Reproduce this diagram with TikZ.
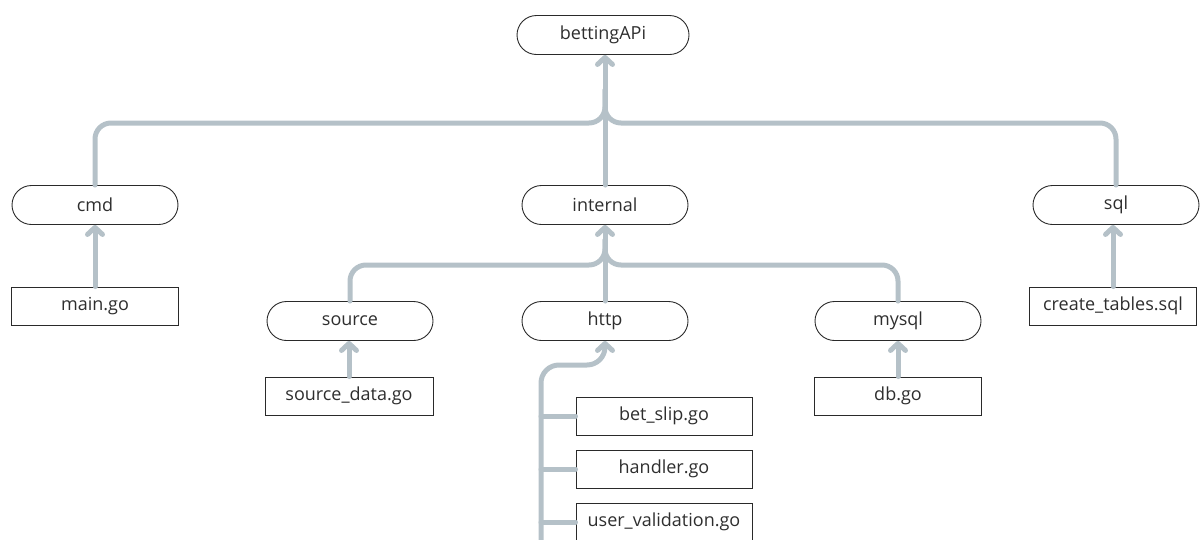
\documentclass[tikz,border=0pt]{standalone}
\usepackage{fontspec}
\setmainfont{Open Sans}
\usetikzlibrary{arrows.meta}
\definecolor{linec}{HTML}{B5C1C8}
\definecolor{edgec}{HTML}{2A2A2A}
\tikzset{
  pill/.style={draw=edgec, line width=0.9pt, rounded corners=19.5pt, minimum width=166pt, minimum height=39pt, inner sep=0pt, font=\fontsize{18}{21}\selectfont, text=black!82},
  filebox/.style={draw=edgec, line width=0.9pt, minimum width=167pt, minimum height=38pt, inner sep=0pt, font=\fontsize{18}{21}\selectfont, text=black!82},
  conn/.style={draw=linec, line width=5pt, line cap=round},
  arr/.style={conn, -{Straight Barb[length=7pt, width=15pt, line width=5pt, round]}},
}
\begin{document}
\begin{tikzpicture}[x=1pt, y=-1pt]
\useasboundingbox (0,0) rectangle (1200,539);
% nodes
\node[pill, minimum width=172pt] (api) at (603,35) {bettingAPi};
\node[pill] (cmd) at (95,205) {cmd};
\node[pill] (internal) at (605,205) {internal};
\node[pill] (sql) at (1116,205) {sql};
\node[filebox] (main) at (95,306) {main.go};
\node[filebox] (create) at (1113,306) {create\_tables.sql};
\node[pill] (source) at (350,321) {source};
\node[pill] (http) at (605,321) {http};
\node[pill] (mysql) at (898,321) {mysql};
\node[filebox, minimum width=168pt] (sourcedata) at (349,396) {source\_data.go};
\node[filebox] (db) at (898,396) {db.go};
\node[filebox, minimum width=176pt] (betslip) at (664,416) {bet\_slip.go};
\node[filebox, minimum width=176pt] (handler) at (664,469) {handler.go};
\node[filebox, minimum width=176pt] (uservalid) at (664,522) {user\_validation.go};
% junction coordinates
\coordinate (j1) at (605,123);
\coordinate (j1top) at (605,90);
\coordinate (j2) at (605,265);
\coordinate (j2top) at (605,240);
\coordinate (spineb) at (541,545);
\coordinate (spinet) at (541,365);
% level 1
\draw[arr] (internal.north) -- (internal.north |- api.south);
\draw[conn, rounded corners=16pt] (cmd.north) |- (j1) -- (j1top);
\draw[conn, rounded corners=16pt] (sql.north) |- (j1) -- (j1top);
\draw[arr] (main.north) -- (cmd.south);
\draw[arr] (create.north) -- (create.north |- sql.south);
% level 2
\draw[arr] (http.north) -- (internal.south);
\draw[conn, rounded corners=16pt] (source.north) |- (j2) -- (j2top);
\draw[conn, rounded corners=16pt] (mysql.north) |- (j2) -- (j2top);
\draw[arr] (sourcedata.north) -- (sourcedata.north |- source.south);
\draw[arr] (db.north) -- (mysql.south);
% http children
\draw[arr, rounded corners=18pt] (spineb) -- (spinet) -| (http.south);
\draw[conn] (betslip.west -| spinet) -- (betslip.west);
\draw[conn] (handler.west -| spinet) -- (handler.west);
\draw[conn] (uservalid.west -| spinet) -- (uservalid.west);
\end{tikzpicture}
\end{document}
